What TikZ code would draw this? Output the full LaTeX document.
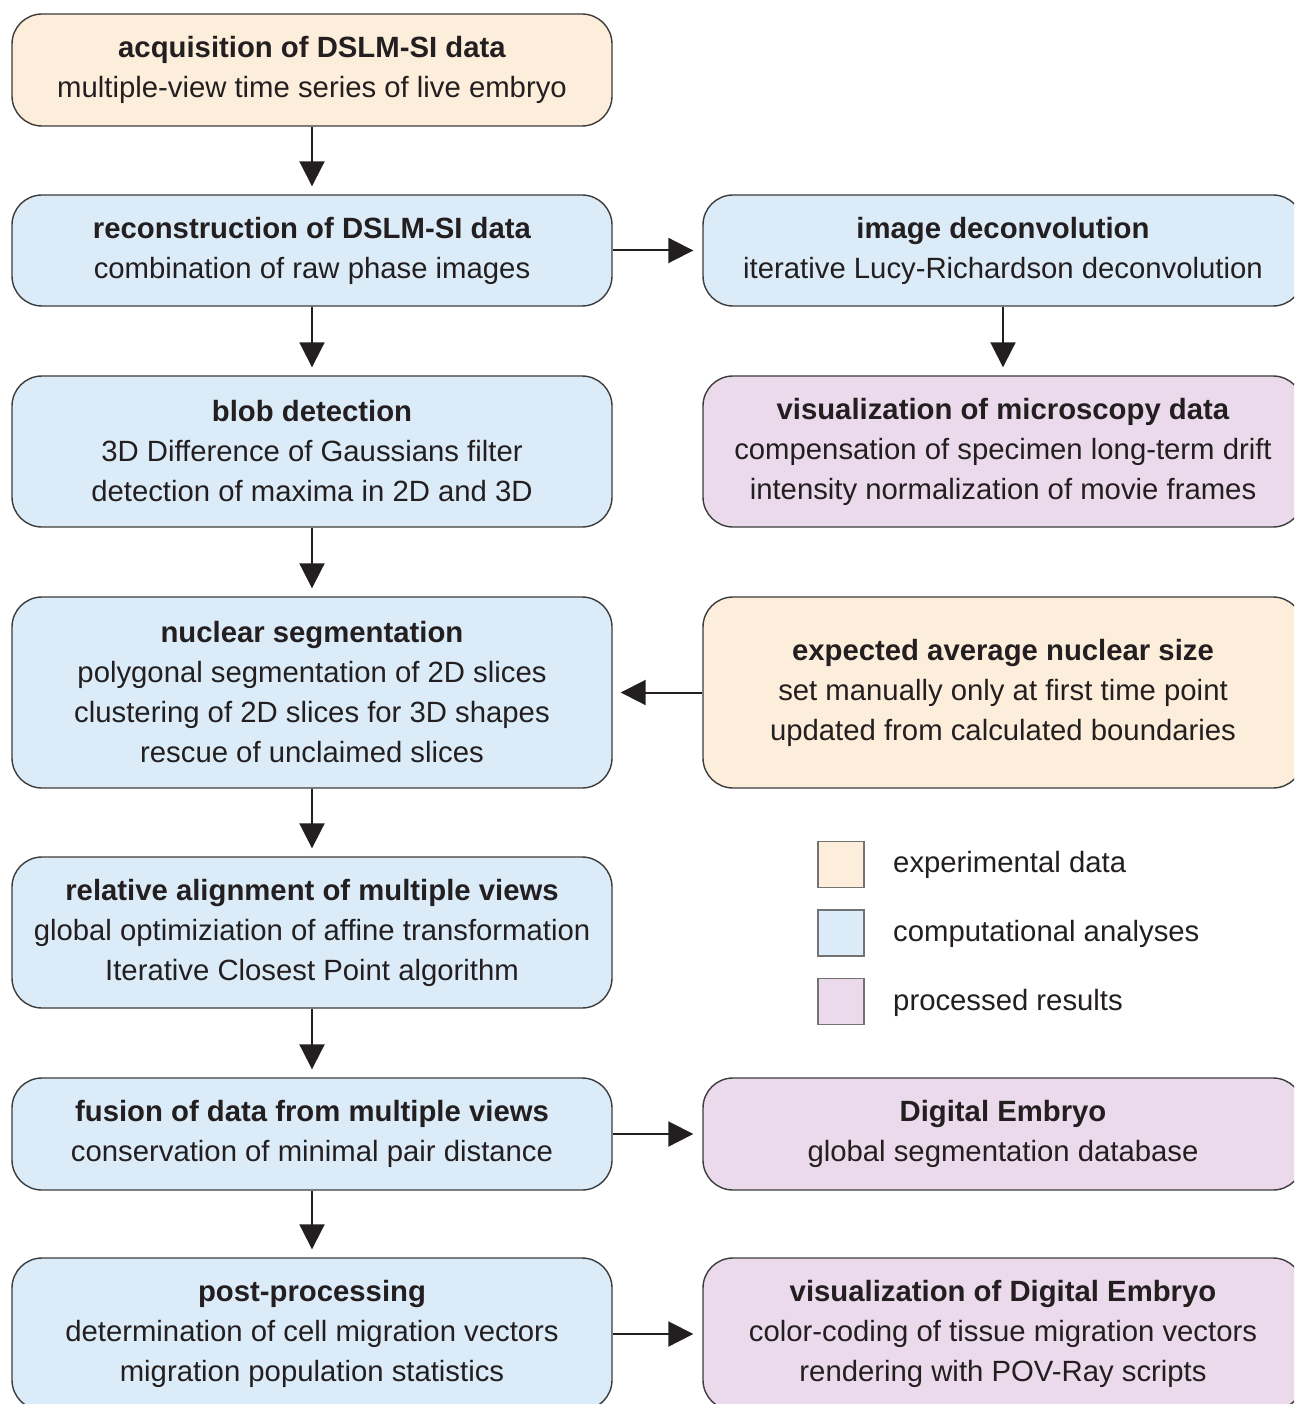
\documentclass[tikz,border=0pt]{standalone}
\usepackage{fontspec}
\setmainfont{Liberation Sans}
\usetikzlibrary{arrows.meta}
\definecolor{expc}{RGB}{253,237,219}
\definecolor{compc}{RGB}{219,236,248}
\definecolor{resc}{RGB}{235,218,235}
\definecolor{edgec}{RGB}{60,60,60}
\definecolor{txtc}{RGB}{35,31,32}
\tikzset{
  box/.style={draw=edgec, line width=1.4pt, rounded corners=30pt, minimum width=600pt,
    align=center, text=txtc, inner sep=0pt,
    font=\fontsize{29.3}{40}\selectfont},
  expbox/.style={box, fill=expc},
  compbox/.style={box, fill=compc},
  resbox/.style={box, fill=resc},
  arr/.style={draw=txtc, line width=2pt, -{Triangle[length=25pt,width=25pt]}},
  legsq/.style={draw=black!55, line width=1.6pt, minimum width=46pt, minimum height=46pt, inner sep=0pt},
  legtxt/.style={anchor=west, text=txtc, inner sep=0pt, font=\fontsize{29.3}{40}\selectfont}
}
\begin{document}
\begin{tikzpicture}[x=1pt,y=-1pt]
\path[use as bounding box] (0,0) rectangle (1294,1404);
\clip (0,0) rectangle (1294,1404);
\fill[white] (0,0) rectangle (1294,1404);

\node[expbox, minimum height=112pt] (acq) at (312,70)
  {\textbf{acquisition of DSLM-SI data}\\multiple-view time series of live embryo};
\node[compbox, minimum height=111pt] (rec) at (312,250.5)
  {\textbf{reconstruction of DSLM-SI data}\\combination of raw phase images};
\node[compbox, minimum height=111pt] (dec) at (1003,250.5)
  {\textbf{image deconvolution}\\iterative Lucy-Richardson deconvolution};
\node[compbox, minimum height=151pt] (blob) at (312,451.5)
  {\textbf{blob detection}\\3D Difference of Gaussians filter\\detection of maxima in 2D and 3D};
\node[resbox, minimum height=151pt] (vis) at (1003,451.5)
  {\textbf{visualization of microscopy data}\\compensation of specimen long-term drift\\intensity normalization of movie frames};
\node[compbox, minimum height=191pt] (seg) at (312,692.5)
  {\textbf{nuclear segmentation}\\polygonal segmentation of 2D slices\\clustering of 2D slices for 3D shapes\\rescue of unclaimed slices};
\node[expbox, minimum height=191pt] (size) at (1003,692.5)
  {\textbf{expected average nuclear size}\\set manually only at first time point\\updated from calculated boundaries};
\node[compbox, minimum height=151pt] (align) at (312,932.5)
  {\textbf{relative alignment of multiple views}\\global optimiziation of affine transformation\\Iterative Closest Point algorithm};
\node[compbox, minimum height=112pt] (fus) at (312,1134)
  {\textbf{fusion of data from multiple views}\\conservation of minimal pair distance};
\node[resbox, minimum height=112pt] (de) at (1003,1134)
  {\textbf{Digital Embryo}\\global segmentation database};
\node[compbox, minimum height=152pt] (post) at (312,1334)
  {\textbf{post-processing}\\determination of cell migration vectors\\migration population statistics};
\node[resbox, minimum height=152pt] (vde) at (1003,1334)
  {\textbf{visualization of Digital Embryo}\\color-coding of tissue migration vectors\\rendering with POV-Ray scripts};

\draw[arr] (acq.south) -- ([yshift=8pt]rec.north);
\draw[arr] (rec.south) -- ([yshift=8pt]blob.north);
\draw[arr] (blob.south) -- ([yshift=8pt]seg.north);
\draw[arr] (seg.south) -- ([yshift=8pt]align.north);
\draw[arr] (align.south) -- ([yshift=8pt]fus.north);
\draw[arr] (fus.south) -- ([yshift=8pt]post.north);
\draw[arr] (dec.south) -- ([yshift=8pt]vis.north);
\draw[arr] (rec.east) -- ([xshift=-9pt]dec.west);
\draw[arr] (size.west) -- ([xshift=8pt]seg.east);
\draw[arr] (fus.east) -- ([xshift=-9pt]de.west);
\draw[arr] (post.east) -- ([xshift=-9pt]vde.west);

\node[legsq, fill=expc] (l1) at (841,864.5) {};
\node[legsq, fill=compc] (l2) at (841,933) {};
\node[legsq, fill=resc] (l3) at (841,1001.5) {};
\node[legtxt] (t1) at (893,865) {experimental data};
\node[legtxt] (t2) at (893,934) {computational analyses};
\node[legtxt] (t3) at (893,1003) {processed results};
\end{tikzpicture}
\end{document}
